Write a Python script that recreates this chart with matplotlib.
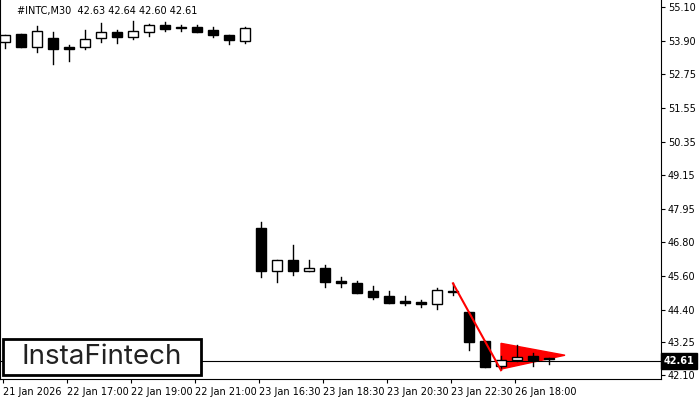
import matplotlib.pyplot as plt
from matplotlib.patches import Rectangle, Polygon

# OHLC data, M30 bars
opens = [53.87, 54.15, 53.69, 54.01, 53.69, 53.69, 54.01, 54.22, 54.04, 54.22, 54.47, 54.36, 54.40, 54.29, 54.11, 53.90,
         47.31, 45.76, 46.15, 45.76, 45.87, 45.41, 45.34, 45.06, 44.88, 44.71, 44.67, 44.60, 45.04,
         44.32, 43.30, 42.41, 42.63, 42.77, 42.66]
highs = [54.11, 54.15, 54.43, 54.22, 53.76, 54.29, 54.54, 54.29, 54.61, 54.50, 54.57, 54.47, 54.47, 54.40, 54.11, 54.40,
         47.49, 46.15, 46.68, 46.15, 45.97, 45.55, 45.41, 45.23, 45.06, 44.88, 44.74, 45.16, 45.34,
         44.32, 43.30, 42.77, 43.16, 42.87, 42.70]
lows = [53.65, 53.69, 53.51, 53.09, 53.20, 53.62, 53.87, 53.83, 53.97, 54.08, 54.25, 54.25, 54.22, 54.04, 53.80, 53.83,
        45.55, 45.37, 45.62, 45.76, 45.20, 45.20, 44.99, 44.78, 44.63, 44.56, 44.49, 44.42, 44.92,
        42.98, 42.38, 42.31, 42.59, 42.41, 42.48]
closes = [54.11, 53.69, 54.25, 53.62, 53.62, 53.97, 54.22, 54.04, 54.25, 54.47, 54.32, 54.36, 54.22, 54.11, 53.94, 54.36,
          45.76, 46.15, 45.76, 45.87, 45.37, 45.34, 44.99, 44.85, 44.63, 44.64, 44.60, 45.09, 45.06,
          43.26, 42.38, 42.63, 42.73, 42.63, 42.68]

y_ticks = [55.10, 53.90, 52.75, 51.55, 50.35, 49.15, 47.95, 46.80, 45.60, 44.40, 43.25, 42.10]
x_tick_pos = [0, 4, 8, 12, 16, 20, 24, 28, 32]
x_tick_labels = ['21 Jan 2026', '22 Jan 17:00', '22 Jan 19:00', '22 Jan 21:00', '23 Jan 16:30',
                 '23 Jan 18:30', '23 Jan 20:30', '23 Jan 22:30', '26 Jan 18:00']

# pennant pattern
pole_x = [28, 31]
pole_y = [45.34, 42.27]
flag_x = [31, 31, 35]
flag_y = [43.22, 42.31, 42.80]
last_price = 42.61

fig = plt.figure(figsize=(7, 4), dpi=100)
ax = fig.add_axes([0.0, 21 / 400, 661 / 700, 379 / 400])

w = 0.62
for i, (o, h, l, c) in enumerate(zip(opens, highs, lows, closes)):
    ax.plot([i, i], [l, h], color='black', lw=1, zorder=2)
    body = max(abs(c - o), 0.03)
    ax.add_patch(Rectangle((i - w / 2, min(o, c)), w, body,
                           facecolor='white' if c >= o else 'black',
                           edgecolor='black', lw=1, zorder=3))

ax.plot(pole_x, pole_y, color='red', lw=1.5, zorder=4)
ax.add_patch(Polygon(list(zip(flag_x, flag_y)), closed=True, color='red', zorder=1))

ax.axhline(last_price, color='black', lw=0.8, zorder=1)

ax.set_xlim(-0.31, 41.0)
ax.set_ylim(41.96, 55.35)
ax.yaxis.tick_right()
ax.set_yticks(y_ticks)
ax.set_yticklabels([f'{v:.2f}' for v in y_ticks], fontsize=7)
ax.set_xticks([p - 0.12 for p in x_tick_pos])
ax.set_xticklabels(x_tick_labels, fontsize=7, ha='left')
for t in ax.get_xticklabels():
    t.set_x(t.get_position()[0])
ax.tick_params(axis='both', length=3, pad=2)
ax.tick_params(axis='x', pad=3)
ax.spines['top'].set_visible(False)

ax.text(0.025, 0.985, '#INTC,M30  42.63 42.64 42.60 42.61', transform=ax.transAxes,
        fontsize=7, va='top', ha='left')

# current price label
ax.text(1.004, last_price, f'{last_price:.2f}', transform=ax.get_yaxis_transform(),
        fontsize=7, color='white', va='center', ha='left', fontweight='bold',
        bbox=dict(boxstyle='square,pad=0.3', fc='black', ec='black'), clip_on=False)

# logo
ax.add_patch(Rectangle((0.004, 0.01), 0.30, 0.095, transform=ax.transAxes,
                       facecolor='white', edgecolor='black', lw=2, zorder=6))
ax.text(0.154, 0.057, 'InstaFintech', transform=ax.transAxes, fontsize=20,
        family='Inter', va='center', ha='center', color='#222222', zorder=7)

fig.savefig('out.png', dpi=100)
